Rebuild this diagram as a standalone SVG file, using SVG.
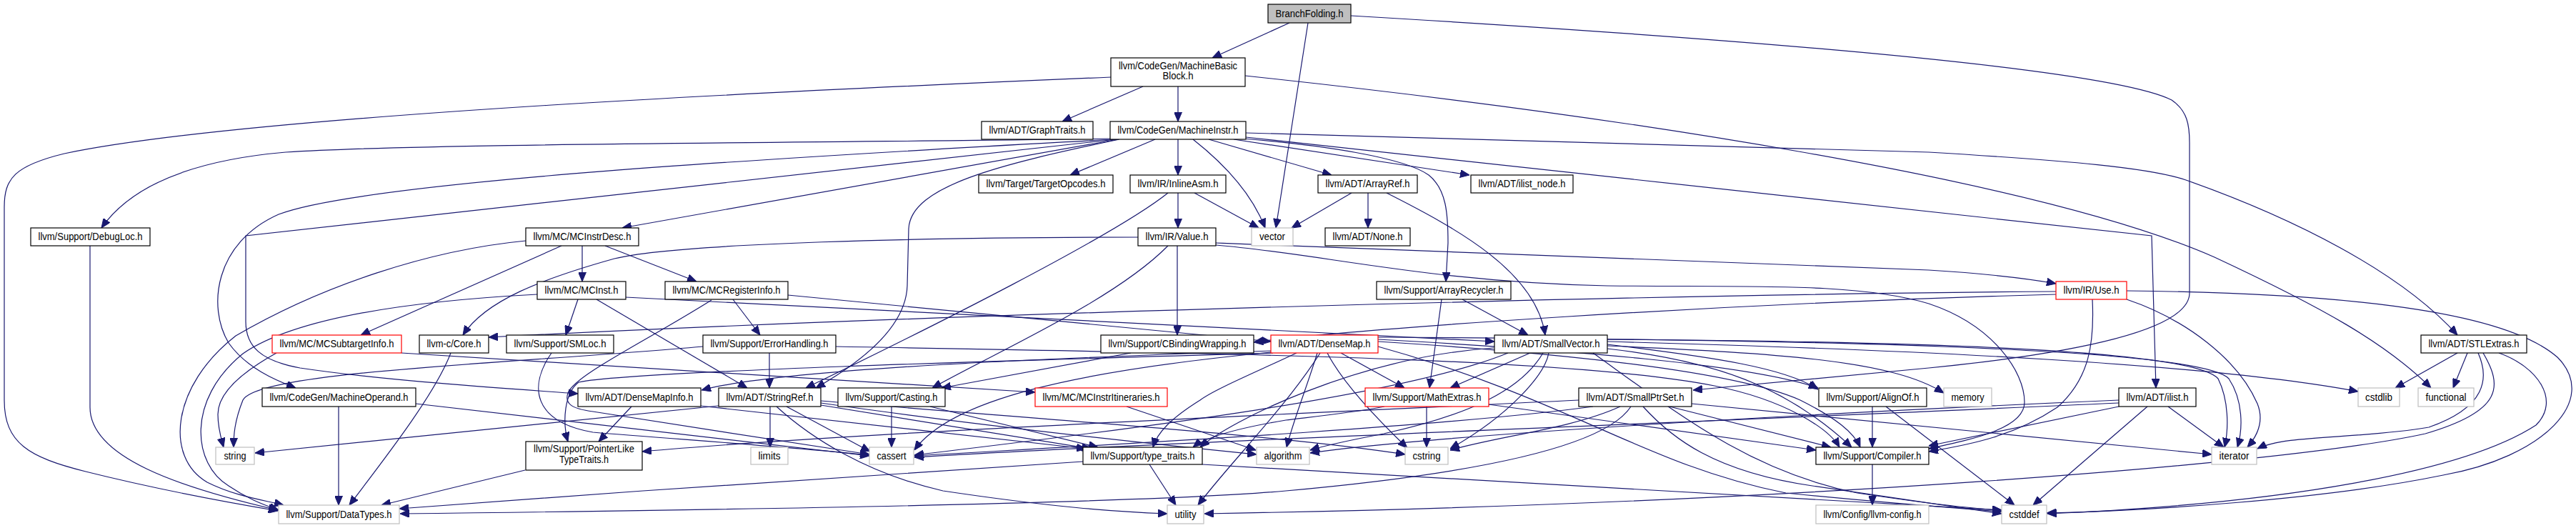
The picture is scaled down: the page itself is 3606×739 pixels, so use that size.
<svg xmlns="http://www.w3.org/2000/svg" width="3606" height="739" viewBox="0 0 3606 739">
<style>
.e{fill:none;stroke:#191970;stroke-width:1.2;marker-end:url(#a)}
rect{fill:#fff;stroke:#000;stroke-width:1.2}
.r rect{stroke:#f00}
.g rect{stroke:#bfbfbf}
.root rect{fill:#bfbfbf}
text{font-family:"Liberation Sans",Arial,sans-serif;font-size:14px;fill:#000;text-anchor:middle}
</style>
<defs>
<marker id="a" markerUnits="userSpaceOnUse" markerWidth="13" markerHeight="11" refX="13" refY="5.5" orient="auto"><path d="M0,0 L13,5.5 L0,11 z" fill="#191970" stroke="#191970"/></marker>
</defs>
<rect x="0" y="0" width="3606" height="739" style="fill:#fff;stroke:none"/>
<g id="edges">
<path class="e" d="M1805,32 L1697,81"/>
<path class="e" d="M1831,32 L1786,319"/>
<path class="e" d="M1891,22 C2450,55 2950,95 3040,140 C3062,155 3065,175 3065,200 L3065,410 C3065,470 2850,500 2700,515 L2370,546"/>
<path class="e" d="M1600,121 L1487,170"/>
<path class="e" d="M1649,121 L1649,170"/>
<path class="e" d="M1555,108 C1150,125 350,160 90,215 C20,232 6,250 6,290 L6,560 C6,620 40,640 120,660 C220,685 300,700 389,715"/>
<path class="e" d="M1743,106 C2250,160 2850,250 3100,360 C3250,430 3340,480 3403,543"/>
<path class="e" d="M1556,194 C1200,200 600,200 400,213 C260,225 180,265 142,319"/>
<path class="e" d="M1558,195 C1200,215 520,250 390,300 C300,340 290,430 320,480 C345,515 385,532 414,543"/>
<path class="e" d="M1562,195 L344,330 L344,450 C344,485 365,505 420,515 C540,533 700,543 809,551"/>
<path class="e" d="M1565,195 L871,319"/>
<path class="e" d="M1567,195 C1400,230 1275,260 1272,320 L1270,400 C1268,460 1200,510 1142,543"/>
<path class="e" d="M1617,195 L1498,245"/>
<path class="e" d="M1649,195 L1649,245"/>
<path class="e" d="M1670,195 C1712,228 1752,270 1771,319"/>
<path class="e" d="M1692,195 L1864,245"/>
<path class="e" d="M1727,195 L2057,245"/>
<path class="e" d="M1740,194 C1850,203 1965,220 2000,245 C2025,265 2027,300 2027,340 L2024,394"/>
<path class="e" d="M1744,192 L3012,330 L3018,543"/>
<path class="e" d="M1744,186 L2700,213 C2900,225 3010,235 3060,252 C3210,305 3360,380 3440,469"/>
<path class="e" d="M1649,270 L1649,319"/>
<path class="e" d="M1672,270 L1762,319"/>
<path class="e" d="M1635,270 C1560,330 1300,460 1128,543"/>
<path class="e" d="M1892,270 L1808,319"/>
<path class="e" d="M1915,270 L1915,319"/>
<path class="e" d="M1941,270 C2040,320 2150,380 2163,469"/>
<path class="e" d="M126,344 L126,570 C126,640 250,682 389,714"/>
<path class="e" d="M815,344 L815,394"/>
<path class="e" d="M847,344 L975,394"/>
<path class="e" d="M786,344 L505,469"/>
<path class="e" d="M736,337 C600,350 450,400 330,470 C240,540 230,640 290,675 C330,695 370,700 397,707"/>
<path class="e" d="M1593,332 C1300,332 950,340 860,362 C760,390 680,420 648,469"/>
<path class="e" d="M1702,340 C2100,358 2500,368 2700,378 C2780,383 2840,390 2878,397"/>
<path class="e" d="M1648,344 L1648,469"/>
<path class="e" d="M1635,344 C1560,420 1400,490 1305,543"/>
<path class="e" d="M1702,343 C1850,355 2000,395 2250,400 C2450,402 2600,395 2700,425 C2790,455 2834,520 2834,563 C2834,600 2760,615 2700,628"/>
<path class="e" d="M809,419 L792,469"/>
<path class="e" d="M835,419 L1046,543"/>
<path class="e" d="M876,416 C1300,438 1800,462 2092,478"/>
<path class="e" d="M752,412 C600,420 420,440 340,495 C260,560 270,650 320,680 C345,697 365,705 390,714"/>
<path class="e" d="M1026,419 L1064,469"/>
<path class="e" d="M1103,413 L1779,478"/>
<path class="e" d="M996,420 C900,480 805,525 795,550 C790,565 800,572 830,576 C950,595 1100,618 1217,636"/>
<path class="e" d="M2047,419 L2139,469"/>
<path class="e" d="M2018,419 L2001,543"/>
<path class="e" d="M2878,408 C2300,412 1300,440 684,472"/>
<path class="e" d="M2878,412 C2400,425 1900,460 1755,479"/>
<path class="e" d="M2929,419 C2932,480 2925,530 2880,570 C2820,610 2760,622 2700,632"/>
<path class="e" d="M2977,419 C3060,447 3133,503 3160,565 C3170,590 3160,610 3146,626"/>
<path class="e" d="M2977,407 C3250,410 3500,430 3580,500 C3640,560 3560,640 3420,665 C3250,700 3000,715 2865,718"/>
<path class="e" d="M387,494 C340,520 305,550 305,580 C305,600 310,615 313,626"/>
<path class="e" d="M562,494 L1449,549"/>
<path class="e" d="M631,494 C610,550 540,640 489,707"/>
<path class="e" d="M772,494 C740,540 745,590 830,605 C950,615 1100,625 1217,637"/>
<path class="e" d="M1077,494 L1077,543"/>
<path class="e" d="M1170,485 C1700,495 2200,500 2400,540 C2500,560 2560,600 2575,626"/>
<path class="e" d="M984,485 C700,510 360,520 340,560 C328,590 327,610 327,626"/>
<path class="e" d="M1583,494 L1318,543"/>
<path class="e" d="M1780,491 C1500,500 1100,515 982,546"/>
<path class="e" d="M1782,494 C1400,505 880,520 810,535 C790,550 787,590 795,618"/>
<path class="e" d="M1929,475 C2200,490 2450,510 2545,543"/>
<path class="e" d="M1929,478 C2200,495 2430,520 2520,560 C2570,585 2595,605 2604,626"/>
<path class="e" d="M1877,494 L1966,543"/>
<path class="e" d="M1815,494 C1760,520 1700,545 1680,560 C1640,585 1620,605 1614,626"/>
<path class="e" d="M1844,494 C1830,540 1810,590 1801,626"/>
<path class="e" d="M1779,493 C1500,520 1330,560 1280,630"/>
<path class="e" d="M1929,485 C2200,560 2300,650 2500,690 C2650,705 2750,712 2802,716"/>
<path class="e" d="M1858,494 C1878,533 1921,580 1970,627"/>
<path class="e" d="M1929,472 C2500,475 3080,485 3120,530 C3140,560 3140,600 3132,626"/>
<path class="e" d="M1848,494 C1800,570 1720,650 1677,707"/>
<path class="e" d="M2250,482 C2400,500 2500,515 2545,545"/>
<path class="e" d="M2250,488 C2400,505 2500,540 2592,626"/>
<path class="e" d="M2142,494 L2030,543"/>
<path class="e" d="M2091,487 C1900,500 1720,590 1680,626"/>
<path class="e" d="M2160,494 C2130,545 2060,580 1937,607 C1880,618 1850,625 1834,630"/>
<path class="e" d="M2111,494 C1950,560 1500,610 1280,637"/>
<path class="e" d="M2230,494 C2350,580 2450,660 2600,690 C2700,705 2760,712 2802,714"/>
<path class="e" d="M2250,478 C2700,490 3100,510 3301,548"/>
<path class="e" d="M2168,494 C2163,523 2115,580 2030,628"/>
<path class="e" d="M2250,475 C2700,478 3070,490 3105,530 C3120,560 3120,600 3114,626"/>
<path class="e" d="M2250,484 C2500,495 2650,505 2721,550"/>
<path class="e" d="M3440,494 L3353,543"/>
<path class="e" d="M3454,494 L3434,543"/>
<path class="e" d="M3469,494 C3485,530 3480,570 3400,598 C3300,615 3200,608 3160,628"/>
<path class="e" d="M3476,494 C3503,540 3505,575 3395,607 C3200,650 2500,705 1686,719"/>
<path class="e" d="M3498,494 C3552,513 3585,560 3550,595 C3450,660 3200,705 2866,719"/>
<path class="e" d="M474,569 L474,707"/>
<path class="e" d="M582,565 L1217,638"/>
<path class="e" d="M884,569 L838,618"/>
<path class="e" d="M980,568 L1520,628"/>
<path class="e" d="M1078,569 L1078,626"/>
<path class="e" d="M1101,569 L1218,632"/>
<path class="e" d="M1087,569 C1135,613 1214,663 1320,687 C1474,710 1560,716 1634,719"/>
<path class="e" d="M1149,567 L1527,628"/>
<path class="e" d="M1149,564 C1400,600 1650,625 1759,636"/>
<path class="e" d="M1149,561 C1500,590 1800,610 1967,636"/>
<path class="e" d="M1006,568 L357,634"/>
<path class="e" d="M1248,569 L1248,626"/>
<path class="e" d="M1302,569 L1537,626"/>
<path class="e" d="M1577,569 L1758,630"/>
<path class="e" d="M2084,566 L2542,630"/>
<path class="e" d="M1997,569 L1997,626"/>
<path class="e" d="M1938,569 C1880,580 1820,585 1800,588 C1740,598 1690,610 1670,626"/>
<path class="e" d="M2337,569 L2563,626"/>
<path class="e" d="M2268,569 C2200,600 2100,610 2030,630"/>
<path class="e" d="M2300,569 C2340,613 2399,660 2537,680 L2802,719"/>
<path class="e" d="M2283,569 C2250,620 2100,660 1800,687 C1600,705 1000,714 560,719"/>
<path class="e" d="M2210,560 C1800,580 1200,605 899,632"/>
<path class="e" d="M2230,569 C2000,600 1500,625 1280,638"/>
<path class="e" d="M2368,565 L3096,636"/>
<path class="e" d="M2621,569 L2621,626"/>
<path class="e" d="M2640,569 L2820,707"/>
<path class="e" d="M2966,569 L2700,624"/>
<path class="e" d="M3006,569 L2846,707"/>
<path class="e" d="M3035,569 L3113,626"/>
<path class="e" d="M2966,560 C2500,580 2000,610 1834,634"/>
<path class="e" d="M2966,564 C2400,590 1600,620 1280,640"/>
<path class="e" d="M735,658 L534,707"/>
<path class="e" d="M1609,650 L1646,707"/>
<path class="e" d="M1516,646 L900,687 L559,712"/>
<path class="e" d="M1683,650 L2802,714"/>
<path class="e" d="M2621,650 L2621,707"/>
</g>
<g id="n0" class="root"><rect x="1775" y="6" width="116" height="26"/><text x="1833" y="24" textLength="95" lengthAdjust="spacingAndGlyphs">BranchFolding.h</text></g>
<g id="n1"><rect x="1555" y="81" width="188" height="40"/><text x="1649" y="97" textLength="166" lengthAdjust="spacingAndGlyphs">llvm/CodeGen/MachineBasic</text><text x="1649" y="111" textLength="43" lengthAdjust="spacingAndGlyphs">Block.h</text></g>
<g id="n2"><rect x="1374" y="170" width="156" height="25"/><text x="1452" y="187" textLength="135" lengthAdjust="spacingAndGlyphs">llvm/ADT/GraphTraits.h</text></g>
<g id="n3"><rect x="1554" y="170" width="190" height="25"/><text x="1649" y="187" textLength="169" lengthAdjust="spacingAndGlyphs">llvm/CodeGen/MachineInstr.h</text></g>
<g id="n4"><rect x="1370" y="245" width="188" height="25"/><text x="1464" y="262" textLength="167" lengthAdjust="spacingAndGlyphs">llvm/Target/TargetOpcodes.h</text></g>
<g id="n5"><rect x="1582" y="245" width="134" height="25"/><text x="1649" y="262" textLength="113" lengthAdjust="spacingAndGlyphs">llvm/IR/InlineAsm.h</text></g>
<g id="n6"><rect x="1845" y="245" width="139" height="25"/><text x="1914.5" y="262" textLength="118" lengthAdjust="spacingAndGlyphs">llvm/ADT/ArrayRef.h</text></g>
<g id="n7"><rect x="2059" y="245" width="143" height="25"/><text x="2130.5" y="262" textLength="122" lengthAdjust="spacingAndGlyphs">llvm/ADT/ilist_node.h</text></g>
<g id="n8"><rect x="43" y="319" width="167" height="25"/><text x="126.5" y="336" textLength="146" lengthAdjust="spacingAndGlyphs">llvm/Support/DebugLoc.h</text></g>
<g id="n9"><rect x="736" y="319" width="158" height="25"/><text x="815" y="336" textLength="137" lengthAdjust="spacingAndGlyphs">llvm/MC/MCInstrDesc.h</text></g>
<g id="n10"><rect x="1593" y="319" width="109" height="25"/><text x="1647.5" y="336" textLength="88" lengthAdjust="spacingAndGlyphs">llvm/IR/Value.h</text></g>
<g id="n11" class="g"><rect x="1752" y="319" width="58" height="25"/><text x="1781" y="336" textLength="36" lengthAdjust="spacingAndGlyphs">vector</text></g>
<g id="n12"><rect x="1855" y="319" width="119" height="25"/><text x="1914.5" y="336" textLength="98" lengthAdjust="spacingAndGlyphs">llvm/ADT/None.h</text></g>
<g id="n13"><rect x="752" y="394" width="124" height="25"/><text x="814" y="411" textLength="103" lengthAdjust="spacingAndGlyphs">llvm/MC/MCInst.h</text></g>
<g id="n14"><rect x="931" y="394" width="172" height="25"/><text x="1017" y="411" textLength="151" lengthAdjust="spacingAndGlyphs">llvm/MC/MCRegisterInfo.h</text></g>
<g id="n15"><rect x="1927" y="394" width="188" height="25"/><text x="2021" y="411" textLength="167" lengthAdjust="spacingAndGlyphs">llvm/Support/ArrayRecycler.h</text></g>
<g id="n16" class="r"><rect x="2878" y="394" width="99" height="25"/><text x="2927.5" y="411" textLength="78" lengthAdjust="spacingAndGlyphs">llvm/IR/Use.h</text></g>
<g id="n17" class="r"><rect x="381" y="469" width="181" height="25"/><text x="471.5" y="486" textLength="160" lengthAdjust="spacingAndGlyphs">llvm/MC/MCSubtargetInfo.h</text></g>
<g id="n18"><rect x="587" y="469" width="97" height="25"/><text x="635.5" y="486" textLength="76" lengthAdjust="spacingAndGlyphs">llvm-c/Core.h</text></g>
<g id="n19"><rect x="709" y="469" width="150" height="25"/><text x="784" y="486" textLength="129" lengthAdjust="spacingAndGlyphs">llvm/Support/SMLoc.h</text></g>
<g id="n20"><rect x="984" y="469" width="186" height="25"/><text x="1077" y="486" textLength="165" lengthAdjust="spacingAndGlyphs">llvm/Support/ErrorHandling.h</text></g>
<g id="n21"><rect x="1541" y="469" width="214" height="25"/><text x="1648" y="486" textLength="193" lengthAdjust="spacingAndGlyphs">llvm/Support/CBindingWrapping.h</text></g>
<g id="n22" class="r"><rect x="1779" y="469" width="150" height="25"/><text x="1854" y="486" textLength="129" lengthAdjust="spacingAndGlyphs">llvm/ADT/DenseMap.h</text></g>
<g id="n23"><rect x="2092" y="469" width="158" height="25"/><text x="2171" y="486" textLength="137" lengthAdjust="spacingAndGlyphs">llvm/ADT/SmallVector.h</text></g>
<g id="n24"><rect x="3389" y="469" width="148" height="25"/><text x="3463" y="486" textLength="127" lengthAdjust="spacingAndGlyphs">llvm/ADT/STLExtras.h</text></g>
<g id="n25"><rect x="367" y="543" width="215" height="26"/><text x="474.5" y="561" textLength="194" lengthAdjust="spacingAndGlyphs">llvm/CodeGen/MachineOperand.h</text></g>
<g id="n26"><rect x="809" y="543" width="172" height="26"/><text x="895" y="561" textLength="151" lengthAdjust="spacingAndGlyphs">llvm/ADT/DenseMapInfo.h</text></g>
<g id="n27"><rect x="1006" y="543" width="143" height="26"/><text x="1077.5" y="561" textLength="122" lengthAdjust="spacingAndGlyphs">llvm/ADT/StringRef.h</text></g>
<g id="n28"><rect x="1173" y="543" width="150" height="26"/><text x="1248" y="561" textLength="129" lengthAdjust="spacingAndGlyphs">llvm/Support/Casting.h</text></g>
<g id="n29" class="r"><rect x="1449" y="543" width="185" height="26"/><text x="1541.5" y="561" textLength="164" lengthAdjust="spacingAndGlyphs">llvm/MC/MCInstrItineraries.h</text></g>
<g id="n30" class="r"><rect x="1911" y="543" width="173" height="26"/><text x="1997.5" y="561" textLength="152" lengthAdjust="spacingAndGlyphs">llvm/Support/MathExtras.h</text></g>
<g id="n31"><rect x="2210" y="543" width="158" height="26"/><text x="2289" y="561" textLength="137" lengthAdjust="spacingAndGlyphs">llvm/ADT/SmallPtrSet.h</text></g>
<g id="n32"><rect x="2546" y="543" width="151" height="26"/><text x="2621.5" y="561" textLength="130" lengthAdjust="spacingAndGlyphs">llvm/Support/AlignOf.h</text></g>
<g id="n33" class="g"><rect x="2721" y="543" width="67" height="26"/><text x="2754.5" y="561" textLength="46" lengthAdjust="spacingAndGlyphs">memory</text></g>
<g id="n34"><rect x="2966" y="543" width="108" height="26"/><text x="3020" y="561" textLength="87" lengthAdjust="spacingAndGlyphs">llvm/ADT/ilist.h</text></g>
<g id="n35" class="g"><rect x="3301" y="543" width="58" height="26"/><text x="3330" y="561" textLength="38" lengthAdjust="spacingAndGlyphs">cstdlib</text></g>
<g id="n36" class="g"><rect x="3385" y="543" width="78" height="26"/><text x="3424" y="561" textLength="57" lengthAdjust="spacingAndGlyphs">functional</text></g>
<g id="n37"><rect x="736" y="618" width="163" height="40"/><text x="817.5" y="633" textLength="141" lengthAdjust="spacingAndGlyphs">llvm/Support/PointerLike</text><text x="817.5" y="648" textLength="69" lengthAdjust="spacingAndGlyphs">TypeTraits.h</text></g>
<g id="n38" class="g"><rect x="302" y="626" width="54" height="24"/><text x="329" y="643" textLength="31" lengthAdjust="spacingAndGlyphs">string</text></g>
<g id="n39" class="g"><rect x="1051" y="626" width="52" height="24"/><text x="1077" y="643" textLength="31" lengthAdjust="spacingAndGlyphs">limits</text></g>
<g id="n40" class="g"><rect x="1217" y="626" width="62" height="24"/><text x="1248" y="643" textLength="41" lengthAdjust="spacingAndGlyphs">cassert</text></g>
<g id="n41"><rect x="1516" y="626" width="167" height="24"/><text x="1599.5" y="643" textLength="146" lengthAdjust="spacingAndGlyphs">llvm/Support/type_traits.h</text></g>
<g id="n42" class="g"><rect x="1759" y="626" width="74" height="24"/><text x="1796" y="643" textLength="53" lengthAdjust="spacingAndGlyphs">algorithm</text></g>
<g id="n43" class="g"><rect x="1967" y="626" width="60" height="24"/><text x="1997" y="643" textLength="39" lengthAdjust="spacingAndGlyphs">cstring</text></g>
<g id="n44"><rect x="2542" y="626" width="158" height="24"/><text x="2621" y="643" textLength="137" lengthAdjust="spacingAndGlyphs">llvm/Support/Compiler.h</text></g>
<g id="n45" class="g"><rect x="3096" y="626" width="63" height="24"/><text x="3127.5" y="643" textLength="42" lengthAdjust="spacingAndGlyphs">iterator</text></g>
<g id="n46" class="g"><rect x="390" y="707" width="169" height="26"/><text x="474.5" y="725" textLength="148" lengthAdjust="spacingAndGlyphs">llvm/Support/DataTypes.h</text></g>
<g id="n47" class="g"><rect x="1634" y="707" width="51" height="26"/><text x="1659.5" y="725" textLength="30" lengthAdjust="spacingAndGlyphs">utility</text></g>
<g id="n48" class="g"><rect x="2542" y="707" width="158" height="26"/><text x="2621" y="725" textLength="137" lengthAdjust="spacingAndGlyphs">llvm/Config/llvm-config.h</text></g>
<g id="n49" class="g"><rect x="2802" y="707" width="63" height="26"/><text x="2833.5" y="725" textLength="42" lengthAdjust="spacingAndGlyphs">cstddef</text></g>
</svg>
